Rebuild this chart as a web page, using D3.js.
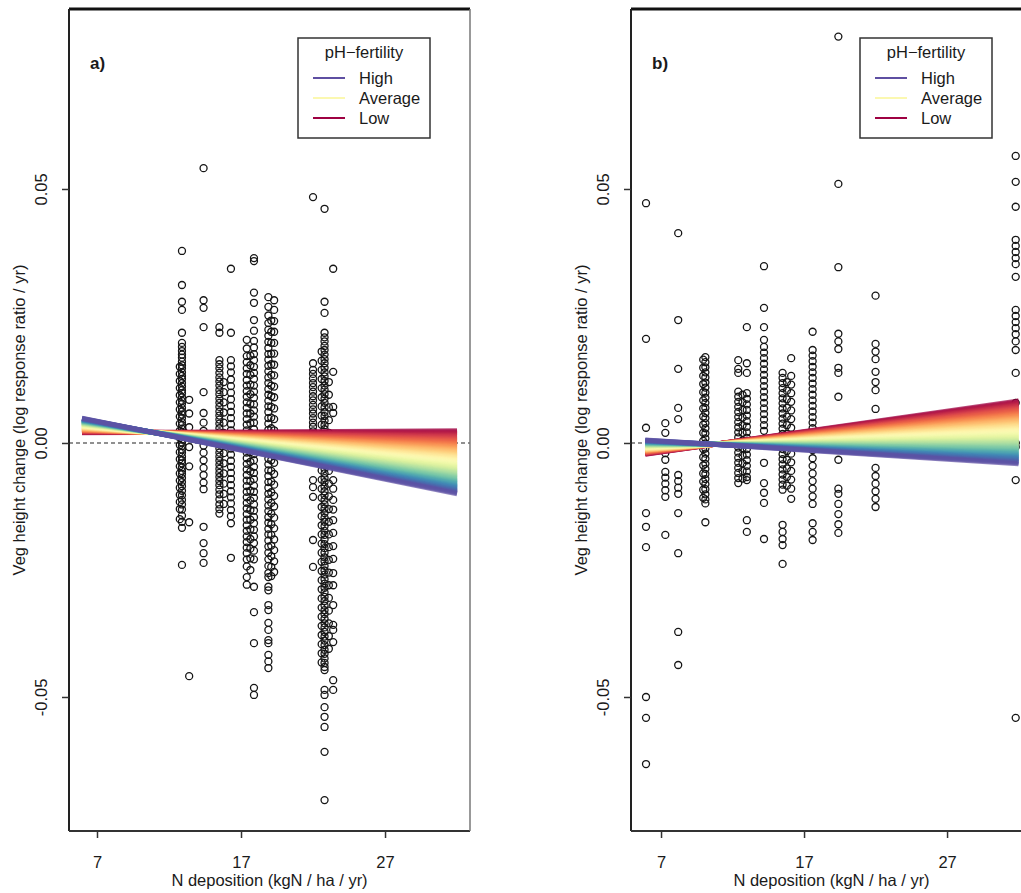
<!DOCTYPE html>
<html><head><meta charset="utf-8">
<script src="https://cdn.jsdelivr.net/npm/d3@7"></script>
<style>body{margin:0;background:#fff;} svg{display:block;font-family:"Liberation Sans",Arial,sans-serif;}</style>
</head><body><svg id="c" width="1021" height="893"></svg>
<script>
// ---------- data ----------
const xTicks = [7, 17, 27];
const yTicks = [0.05, 0.00, -0.05];
const yTickLabels = ["0.05", "0.00", "-0.05"];
const xLabel = "N deposition (kgN / ha / yr)";
const yLabel = "Veg height change (log response ratio / yr)";
const legendTitle = "pH\u2212fertility";
const legendLabels = ["High", "Average", "Low"];
const legendLevels = [1, 0.5, 0];
const panelLabels = ["a)", "b)"];

// panel a: site N deposition and the vegetation height values observed at each site
const siteXA = [12.75, 12.9, 13.4, 14.4, 15.5, 15.8, 16.3, 17.4, 17.65, 17.9, 18.9, 19.1, 19.3, 22.0, 22.6, 22.8, 23.1, 23.4];
const vegA = [
 [0.0150,0.0136,0.0122,0.0108,0.0094,0.0080,0.0066,0.0052,0.0038,0.0024,0.0010,-0.0004,-0.0018,-0.0032,-0.0046,-0.0060,-0.0074,-0.0088,-0.0102,-0.0116,-0.0130,-0.0150],
 [0.0378,0.0311,0.0278,0.0262,0.0217,0.0197,0.0189,0.0181,0.0174,0.0168,0.0160,0.0153,0.0147,0.0139,0.0132,0.0126,0.0118,0.0111,0.0104,0.0098,0.0090,0.0083,0.0077,0.0069,0.0062,0.0056,0.0049,0.0041,0.0035,0.0028,0.0021,0.0014,0.0007,0.0001,-0.0006,-0.0013,-0.0019,-0.0027,-0.0034,-0.0040,-0.0048,-0.0055,-0.0061,-0.0069,-0.0077,-0.0085,-0.0094,-0.0103,-0.0112,-0.0121,-0.0131,-0.0143,-0.0155,-0.0167,-0.0240],
 [0.0085,0.0058,0.0031,-0.0008,-0.0046,-0.0156,-0.0459],
 [0.0541,0.0281,0.0266,0.0228,0.0100,0.0059,0.0040,0.0024,0.0009,-0.0005,-0.0019,-0.0034,-0.0049,-0.0063,-0.0078,-0.0091,-0.0165,-0.0197,-0.0217,-0.0236],
 [0.0228,0.0217,0.0163,0.0155,0.0147,0.0138,0.0129,0.0121,0.0113,0.0104,0.0096,0.0087,0.0079,0.0071,0.0062,0.0054,0.0046,0.0038,0.0029,0.0021,0.0013,0.0006,-0.0003,-0.0011,-0.0019,-0.0027,-0.0035,-0.0043,-0.0051,-0.0059,-0.0067,-0.0075,-0.0083,-0.0092,-0.0101,-0.0111,-0.0121,-0.0130,-0.0139],
 [0.0120,0.0100,0.0080,0.0060,0.0040,0.0020,0.0000,-0.0020,-0.0040,-0.0060,-0.0080,-0.0100,-0.0120],
 [0.0343,0.0217,0.0163,0.0151,0.0139,0.0125,0.0112,0.0099,0.0086,0.0073,0.0061,0.0049,0.0037,0.0025,0.0013,0.0001,-0.0011,-0.0023,-0.0035,-0.0047,-0.0059,-0.0071,-0.0083,-0.0095,-0.0107,-0.0119,-0.0132,-0.0144,-0.0158,-0.0226],
 [0.0203,0.0186,0.0171,0.0159,0.0147,0.0136,0.0124,0.0113,0.0102,0.0091,0.0080,0.0069,0.0058,0.0047,0.0036,0.0025,0.0014,0.0003,-0.0008,-0.0019,-0.0030,-0.0041,-0.0052,-0.0063,-0.0074,-0.0085,-0.0096,-0.0107,-0.0118,-0.0129,-0.0140,-0.0151,-0.0162,-0.0173,-0.0184,-0.0195,-0.0206,-0.0217,-0.0229,-0.0243,-0.0264,-0.0279],
 [0.0172,0.0153,0.0134,0.0115,0.0096,0.0077,0.0058,0.0039,0.0020,0.0001,-0.0018,-0.0037,-0.0056,-0.0075,-0.0094,-0.0113,-0.0132,-0.0151,-0.0170,-0.0189,-0.0208,-0.0227,-0.0250],
 [0.0364,0.0358,0.0296,0.0276,0.0242,0.0221,0.0201,0.0188,0.0175,0.0163,0.0150,0.0138,0.0126,0.0113,0.0101,0.0089,0.0076,0.0064,0.0052,0.0040,0.0027,0.0015,0.0003,-0.0010,-0.0022,-0.0034,-0.0047,-0.0059,-0.0071,-0.0084,-0.0096,-0.0108,-0.0121,-0.0133,-0.0146,-0.0158,-0.0171,-0.0184,-0.0197,-0.0212,-0.0229,-0.0283,-0.0333,-0.0394,-0.0482,-0.0496],
 [0.0287,0.0268,0.0251,0.0236,0.0223,0.0211,0.0199,0.0187,0.0175,0.0164,0.0152,0.0141,0.0129,0.0118,0.0106,0.0095,0.0083,0.0072,0.0061,0.0049,0.0038,0.0026,0.0015,0.0004,-0.0008,-0.0019,-0.0031,-0.0042,-0.0054,-0.0065,-0.0077,-0.0088,-0.0100,-0.0111,-0.0123,-0.0134,-0.0146,-0.0157,-0.0169,-0.0180,-0.0192,-0.0204,-0.0216,-0.0229,-0.0242,-0.0256,-0.0264,-0.0283,-0.0290,-0.0319,-0.0329,-0.0354,-0.0368,-0.0388,-0.0394,-0.0417,-0.0430,-0.0443],
 [0.0241,0.0219,0.0197,0.0176,0.0155,0.0134,0.0113,0.0092,0.0071,0.0050,0.0029,0.0008,-0.0013,-0.0034,-0.0055,-0.0076,-0.0097,-0.0118,-0.0139,-0.0160,-0.0181,-0.0202,-0.0223,-0.0244,-0.0262],
 [0.0281,0.0262,0.0240,0.0219,0.0197,0.0176,0.0154,0.0133,0.0111,0.0090,0.0068,0.0047,0.0025,0.0004,-0.0018,-0.0039,-0.0061,-0.0082,-0.0104,-0.0125,-0.0147,-0.0168,-0.0190,-0.0211,-0.0233,-0.0254],
 [0.0484,0.0157,0.0144,0.0136,0.0127,0.0118,0.0110,0.0101,0.0092,0.0084,0.0075,0.0066,0.0058,0.0049,0.0040,0.0032,0.0023,0.0014,0.0006,-0.0003,-0.0012,-0.0021,-0.0028,-0.0073,-0.0087,-0.0106,-0.0191,-0.0244],
 [0.0180,0.0162,0.0144,0.0126,0.0108,0.0090,0.0072,0.0054,0.0036,0.0018,0.0000,-0.0018,-0.0036,-0.0054,-0.0072,-0.0090,-0.0108,-0.0126,-0.0144,-0.0162,-0.0180,-0.0198,-0.0216,-0.0234,-0.0252,-0.0270,-0.0288,-0.0306,-0.0324,-0.0342,-0.0360,-0.0378,-0.0396,-0.0414,-0.0432],
 [0.0461,0.0278,0.0256,0.0217,0.0208,0.0200,0.0191,0.0183,0.0174,0.0165,0.0157,0.0148,0.0139,0.0131,0.0122,0.0113,0.0105,0.0096,0.0087,0.0079,0.0070,0.0061,0.0053,0.0044,0.0035,0.0027,0.0018,0.0009,0.0001,-0.0008,-0.0017,-0.0025,-0.0034,-0.0043,-0.0051,-0.0060,-0.0069,-0.0077,-0.0086,-0.0095,-0.0103,-0.0112,-0.0121,-0.0129,-0.0138,-0.0147,-0.0155,-0.0164,-0.0173,-0.0181,-0.0190,-0.0199,-0.0207,-0.0216,-0.0225,-0.0233,-0.0242,-0.0251,-0.0259,-0.0268,-0.0277,-0.0285,-0.0294,-0.0303,-0.0311,-0.0320,-0.0329,-0.0337,-0.0346,-0.0355,-0.0363,-0.0372,-0.0381,-0.0389,-0.0398,-0.0407,-0.0415,-0.0424,-0.0433,-0.0441,-0.0447,-0.0486,-0.0496,-0.0520,-0.0539,-0.0559,-0.0608,-0.0703],
 [0.0120,0.0095,0.0070,0.0045,0.0020,-0.0005,-0.0030,-0.0055,-0.0080,-0.0105,-0.0130,-0.0155,-0.0180,-0.0205,-0.0230,-0.0255,-0.0280,-0.0305,-0.0330,-0.0355,-0.0380,-0.0405],
 [0.0343,0.0140,0.0071,0.0059,-0.0073,-0.0090,-0.0112,-0.0131,-0.0152,-0.0177,-0.0203,-0.0228,-0.0256,-0.0280,-0.0319,-0.0358,-0.0368,-0.0392,-0.0467,-0.0486]
];

// panel b
const siteXB = [5.95, 7.3, 8.2, 9.95, 10.1, 12.4, 12.7, 13.0, 14.2, 15.5, 15.8, 16.1, 17.6, 19.4, 22.0, 31.8];
const vegB = [
 [0.0472,0.0205,0.0030,-0.0138,-0.0165,-0.0205,-0.0500,-0.0541,-0.0632],
 [0.0039,0.0020,-0.0020,-0.0033,-0.0057,-0.0068,-0.0080,-0.0093,-0.0106,-0.0181],
 [0.0413,0.0242,0.0146,0.0069,0.0047,-0.0063,-0.0075,-0.0088,-0.0100,-0.0138,-0.0217,-0.0372,-0.0437],
 [0.0164,0.0148,0.0132,0.0116,0.0100,0.0084,0.0068,0.0052,0.0036,0.0020,0.0004,-0.0012,-0.0028,-0.0044,-0.0060,-0.0076,-0.0092,-0.0108],
 [0.0169,0.0159,0.0149,0.0139,0.0129,0.0119,0.0109,0.0099,0.0089,0.0079,0.0069,0.0059,0.0049,0.0039,0.0029,0.0019,0.0009,-0.0001,-0.0011,-0.0021,-0.0031,-0.0041,-0.0051,-0.0061,-0.0071,-0.0081,-0.0091,-0.0101,-0.0111,-0.0119,-0.0156],
 [0.0163,0.0146,0.0138,0.0101,0.0091,0.0081,0.0071,0.0061,0.0051,0.0041,0.0031,0.0021,0.0011,0.0001,-0.0009,-0.0019,-0.0029,-0.0039,-0.0049,-0.0059,-0.0069,-0.0079],
 [0.0095,0.0080,0.0065,0.0050,0.0035,0.0020,0.0005,-0.0010,-0.0025,-0.0040,-0.0055,-0.0070],
 [0.0228,0.0157,0.0138,0.0098,0.0087,0.0076,0.0065,0.0054,0.0043,0.0032,0.0021,0.0010,-0.0001,-0.0012,-0.0023,-0.0034,-0.0045,-0.0056,-0.0067,-0.0073,-0.0152,-0.0175],
 [0.0348,0.0266,0.0228,0.0203,0.0189,0.0178,0.0167,0.0156,0.0145,0.0134,0.0123,0.0112,0.0101,0.0090,0.0079,0.0068,0.0057,0.0046,0.0035,0.0024,-0.0039,-0.0079,-0.0098,-0.0118,-0.0189],
 [0.0138,0.0128,0.0118,0.0108,0.0098,0.0088,0.0078,0.0068,0.0058,0.0048,0.0038,0.0028,0.0018,0.0008,-0.0002,-0.0012,-0.0022,-0.0032,-0.0042,-0.0052,-0.0062,-0.0072,-0.0082,-0.0092,-0.0161,-0.0175,-0.0189,-0.0201,-0.0238],
 [0.0120,0.0103,0.0086,0.0069,0.0052,0.0035,0.0018,0.0001,-0.0016,-0.0033,-0.0050,-0.0067,-0.0084],
 [0.0167,0.0132,0.0115,0.0098,0.0081,0.0064,0.0047,0.0030,0.0013,-0.0004,-0.0021,-0.0038,-0.0055,-0.0072,-0.0090,-0.0110],
 [0.0219,0.0183,0.0172,0.0161,0.0150,0.0139,0.0128,0.0117,0.0106,0.0095,0.0084,0.0073,0.0062,0.0051,0.0040,0.0029,0.0020,-0.0014,-0.0030,-0.0045,-0.0060,-0.0075,-0.0090,-0.0105,-0.0120,-0.0158,-0.0175,-0.0191],
 [0.0800,0.0510,0.0346,0.0215,0.0200,0.0185,0.0148,0.0138,0.0091,-0.0033,-0.0090,-0.0100,-0.0120,-0.0140,-0.0160,-0.0177],
 [0.0290,0.0195,0.0180,0.0165,0.0140,0.0120,0.0104,0.0067,-0.0049,-0.0065,-0.0080,-0.0095,-0.0110,-0.0126],
 [0.0565,0.0514,0.0465,0.0400,0.0388,0.0376,0.0364,0.0352,0.0327,0.0262,0.0250,0.0238,0.0226,0.0214,0.0200,0.0183,0.0138,0.0079,0.0000,-0.0008,-0.0073,-0.0541]
];

// fitted lines at low and high pH-fertility, at the two ends of the N range
const fanXA = [5.96, 32.0];
const fanLowA = [0.0020, 0.0024];
const fanHighA = [0.0049, -0.0100];
const fanXB = [5.9, 32.0];
const fanLowB = [-0.0022, 0.0083];
const fanHighB = [0.0006, -0.0041];
// pH-fertility levels drawn in the fan (0 = low, 1 = high)
const fanLevels = d3.range(0, 1.00001, 1 / 60);

// ---------- drawing ----------
const svg = d3.select("#c");
const TOP = 9, BOTTOM = 831;
const y = d3.scaleLinear().domain([-0.07638, 0.08543]).range([BOTTOM, TOP]);
const FS = "16.5px";
const TXT = "#1a1a1a";

const panels = [
  {left: 69, right: 470, xdom: [5.056, 32.90], siteX: siteXA, veg: vegA, fanX: fanXA, lo: fanLowA, hi: fanHighA, label: panelLabels[0]},
  {left: 631, right: 1032, xdom: [4.90, 32.94], siteX: siteXB, veg: vegB, fanX: fanXB, lo: fanLowB, hi: fanHighB, label: panelLabels[1]}
];

const color = t => d3.interpolateSpectral(t);

panels.forEach(p => {
  const x = d3.scaleLinear().domain(p.xdom).range([p.left, p.right]);
  const g = svg.append("g");

  // zero reference line
  g.append("line")
    .attr("x1", p.left).attr("x2", p.right)
    .attr("y1", y(0)).attr("y2", y(0))
    .attr("stroke", "#222").attr("stroke-width", 1.2).attr("stroke-dasharray", "4,3");

  // points
  const pts = p.siteX.flatMap((sx, i) => p.veg[i].map(v => [sx, v]));
  g.append("g").selectAll("circle").data(pts).join("circle")
    .attr("cx", d => x(d[0])).attr("cy", d => y(d[1])).attr("r", 3.5)
    .attr("fill", "none").attr("stroke", "#151515").attr("stroke-width", 1.3);

  // fan of fitted lines
  g.append("g").selectAll("line").data(fanLevels).join("line")
    .attr("x1", x(p.fanX[0])).attr("x2", x(p.fanX[1]))
    .attr("y1", t => y(p.lo[0] + t * (p.hi[0] - p.lo[0])))
    .attr("y2", t => y(p.lo[1] + t * (p.hi[1] - p.lo[1])))
    .attr("stroke", t => color(t)).attr("stroke-width", 5).attr("stroke-opacity", 0.7);

  // box
  const box = g.append("g");
  box.append("line").attr("x1", p.left).attr("x2", p.right).attr("y1", TOP).attr("y2", TOP).attr("stroke", "#111").attr("stroke-width", 3);
  box.append("line").attr("x1", p.left).attr("x2", p.left).attr("y1", TOP).attr("y2", BOTTOM).attr("stroke", "#222").attr("stroke-width", 2);
  box.append("line").attr("x1", p.left).attr("x2", p.right).attr("y1", BOTTOM).attr("y2", BOTTOM).attr("stroke", "#333").attr("stroke-width", 2);
  box.append("line").attr("x1", p.right).attr("x2", p.right).attr("y1", TOP).attr("y2", BOTTOM).attr("stroke", "#777").attr("stroke-width", 1.5);

  // x axis
  const xa = g.append("g").attr("transform", `translate(0,${BOTTOM})`)
    .call(d3.axisBottom(x).tickValues(xTicks).tickSize(7).tickPadding(18).tickFormat(d3.format("d")));
  xa.select(".domain").remove();
  xa.selectAll(".tick line").attr("stroke", "#333").attr("stroke-width", 1.5);
  xa.selectAll(".tick text").attr("font-size", FS).attr("font-family", "Liberation Sans, Arial, sans-serif").attr("fill", TXT);

  // y axis
  const ya = g.append("g").attr("transform", `translate(${p.left},0)`)
    .call(d3.axisLeft(y).tickValues(yTicks).tickSize(7).tickFormat((d, i) => yTickLabels[i]));
  ya.select(".domain").remove();
  ya.selectAll(".tick line").attr("stroke", "#333").attr("stroke-width", 1.5);
  ya.selectAll(".tick text").attr("font-size", FS).attr("font-family", "Liberation Sans, Arial, sans-serif").attr("fill", TXT)
    .attr("transform", "rotate(-90)").attr("x", 0).attr("y", -22.5).attr("dy", 0).attr("text-anchor", "middle");

  // axis titles
  g.append("text").attr("x", (p.left + p.right) / 2).attr("y", 886).attr("text-anchor", "middle")
    .attr("font-size", FS).attr("fill", TXT).text(xLabel);
  g.append("text").attr("transform", `translate(${p.left - 44},${(TOP + BOTTOM) / 2}) rotate(-90)`)
    .attr("text-anchor", "middle").attr("font-size", FS).attr("fill", TXT).text(yLabel);

  // panel label
  g.append("text").attr("x", p.left + 21).attr("y", 69).attr("font-size", "17px").attr("font-weight", "bold")
    .attr("fill", TXT).text(p.label);

  // legend
  const lx = p.left + 229, ly = 38;
  const lg = g.append("g");
  lg.append("rect").attr("x", lx).attr("y", ly).attr("width", 132).attr("height", 100)
    .attr("fill", "#fff").attr("stroke", "#333").attr("stroke-width", 1.5);
  lg.append("text").attr("x", lx + 66).attr("y", ly + 20).attr("text-anchor", "middle")
    .attr("font-size", FS).attr("fill", TXT).text(legendTitle);
  legendLabels.forEach((lab, i) => {
    const yy = ly + 40 + i * 20;
    lg.append("line").attr("x1", lx + 15).attr("x2", lx + 47).attr("y1", yy).attr("y2", yy)
      .attr("stroke", color(legendLevels[i])).attr("stroke-width", 2);
    lg.append("text").attr("x", lx + 61).attr("y", yy + 5.5).attr("font-size", FS).attr("fill", TXT).text(lab);
  });
});
</script></body></html>
